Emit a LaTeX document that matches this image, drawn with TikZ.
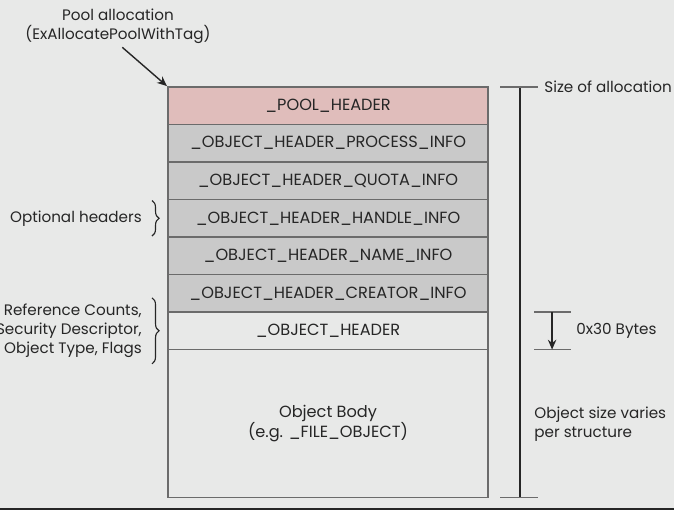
\documentclass[tikz,border=0pt]{standalone}
\usepackage{fontspec}
\setmainfont{Poppins}
\usetikzlibrary{arrows.meta,positioning,calc,decorations.pathreplacing}
\definecolor{Bg}{HTML}{E8E9E8}
\definecolor{Pool}{HTML}{E0BDBB}
\definecolor{Hdr}{HTML}{C9C9C9}
\definecolor{Edge}{HTML}{6B6B6B}
\definecolor{Ink}{HTML}{262626}

\begin{document}
\begin{tikzpicture}[
    x=0.025cm, y=-0.025cm,
    every node/.style={font={\fontsize{11.5}{13.5}\selectfont}, text=Ink},
    row/.style={draw=Edge, line width=0.9pt, rectangle, minimum width=8cm,
      minimum height=0.9375cm, inner sep=0pt, outer sep=0pt},
    pool/.style={row, fill=Pool},
    opthdr/.style={row, fill=Hdr},
    plain/.style={row, fill=Bg},
    tick/.style={draw=Edge, line width=0.9pt},
    brace/.style={decorate, decoration={brace, amplitude=5pt}, line width=0.8pt, draw=Ink},
    label/.style={inner sep=0pt, font={\fontsize{10.8}{13.5}\selectfont}},
    note/.style={label, anchor=east, align=right}
  ]

  \fill[Bg] (0,0) rectangle (674,510);
  \useasboundingbox (0,0) rectangle (674,510);

  \node[pool, anchor=north west] (pool) at (168,87) {\_POOL\_HEADER};
  \node[opthdr, below=0pt of pool] (process) {\_OBJECT\_HEADER\_PROCESS\_INFO};
  \node[opthdr, below=0pt of process] (quota) {\_OBJECT\_HEADER\_QUOTA\_INFO};
  \node[opthdr, below=0pt of quota] (handle) {\_OBJECT\_HEADER\_HANDLE\_INFO};
  \node[opthdr, below=0pt of handle] (name) {\_OBJECT\_HEADER\_NAME\_INFO};
  \node[opthdr, below=0pt of name] (creator) {\_OBJECT\_HEADER\_CREATOR\_INFO};
  \node[plain, below=0pt of creator] (objhdr) {\_OBJECT\_HEADER};
  \node[plain, below=0pt of objhdr, minimum height=3.7cm, align=center] (body)
  {Object Body\\(e.g. \_FILE\_OBJECT)};

  % pool allocation pointer
  \node[label, align=center] (alloc) at (118,26) {Pool allocation\\(ExAllocatePoolWithTag)};
  \draw[-{Stealth[length=7pt,width=6pt]}, line width=1pt, Ink, shorten <=4pt, shorten >=1pt]
  (alloc.south) -- (pool.north west);

  % size of allocation
  \coordinate (sizetop) at ($(pool.north east)+(32,0)$);
  \coordinate (sizebot) at ($(body.south east)+(32,0)$);
  \draw[line width=0.9pt, Ink] (sizetop) -- (sizebot);
  \draw[tick] ($(sizetop)+(-20,0)$) -- ($(sizetop)+(18,0)$);
  \draw[tick] ($(sizebot)+(-20,0)$) -- ($(sizebot)+(18,0)$);
  \node[label, anchor=west] (sizelbl) at ($(sizetop)+(24,0)$) {Size of allocation};

  % object header size
  \coordinate (hdrtop) at ($(objhdr.north east)+(64,0)$);
  \coordinate (hdrbot) at ($(objhdr.south east)+(64,0)$);
  \draw[tick] ($(hdrtop)+(-18,0)$) -- ($(hdrtop)+(19,0)$);
  \draw[tick] ($(hdrbot)+(-18,0)$) -- ($(hdrbot)+(19,0)$);
  \draw[-{Stealth[length=7pt,width=6pt]}, line width=1pt, Ink] (hdrtop) -- (hdrbot);
  \node[label, anchor=west] (hdrlbl) at ($(objhdr.east)+(88,0)$) {0x30 Bytes};

  \node[label, anchor=west, align=left] (bodylbl) at ($(body.east)+(46,1)$)
  {Object size varies\\per structure};

  % braces on the left
  \draw[brace] ($(handle.north west)+(-16,1)$) -- ($(handle.south west)+(-16,-1)$);
  \node[note] (optlbl) at ($(handle.west)+(-26,0)$) {Optional headers};

  \draw[brace] ($(objhdr.west)+(-16,-33)$) -- ($(objhdr.west)+(-16,33)$);
  \node[note] (reflbl) at ($(objhdr.west)+(-26,0)$)
  {Reference Counts,\\Security Descriptor,\\Object Type, Flags};

  \draw[line width=2pt, Ink] (0,509) -- (674,509);
\end{tikzpicture}
\end{document}
